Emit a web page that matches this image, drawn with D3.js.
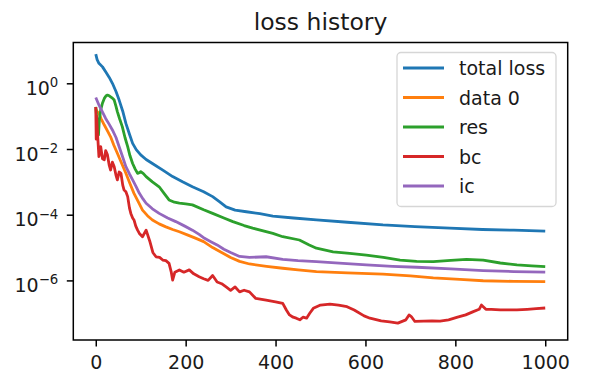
<!DOCTYPE html>
<html>
<head>
<meta charset="utf-8">
<script src="https://cdn.jsdelivr.net/npm/d3@7"></script>
<style>
  body { margin: 0; background: #fff; }
  svg text { font-family: "DejaVu Sans", sans-serif; fill: #1a1a1a; }
</style>
</head>
<body>
<div id="chart"></div>
<script>
// Loss curves: [iteration, log10(loss)]
const totalLoss = [[0,0.89],[3,0.72],[7,0.61],[15,0.5],[22,0.35],[30,0.18],[37,0.0],[45,-0.25],[52,-0.51],[60,-0.85],[67,-1.22],[75,-1.55],[82,-1.83],[90,-2.02],[100,-2.18],[112,-2.32],[126,-2.44],[150,-2.65],[171,-2.84],[193,-3.0],[215,-3.15],[240,-3.3],[260,-3.45],[275,-3.6],[290,-3.76],[310,-3.86],[335,-3.91],[365,-3.97],[394,-4.04],[440,-4.1],[491,-4.16],[560,-4.23],[639,-4.31],[710,-4.36],[788,-4.41],[860,-4.45],[930,-4.47],[1000,-4.5]];

const data0 = [[0,-0.78],[3,-0.86],[7,-0.91],[12,-1.08],[19,-1.27],[26,-1.45],[33,-1.63],[40,-1.88],[48,-2.13],[57,-2.42],[67,-2.74],[76,-3.05],[85,-3.35],[95,-3.62],[104,-3.86],[115,-4.03],[126,-4.16],[141,-4.28],[156,-4.37],[171,-4.45],[186,-4.52],[205,-4.62],[223,-4.72],[240,-4.82],[260,-5.0],[280,-5.15],[300,-5.3],[320,-5.42],[342,-5.5],[380,-5.57],[416,-5.63],[450,-5.68],[491,-5.73],[560,-5.77],[639,-5.81],[700,-5.86],[751,-5.92],[810,-5.97],[862,-6.01],[930,-6.03],[1000,-6.04]];

const res = [[0,-0.72],[3,-1.2],[6,-1.57],[8,-1.1],[11,-0.81],[15,-0.6],[19,-0.46],[23,-0.38],[26,-0.36],[30,-0.38],[33,-0.41],[37,-0.45],[41,-0.51],[45,-0.7],[48,-0.86],[53,-1.08],[59,-1.32],[65,-1.65],[71,-1.93],[76,-2.2],[82,-2.44],[88,-2.62],[93,-2.74],[97,-2.72],[100,-2.69],[106,-2.75],[112,-2.84],[126,-3.0],[141,-3.15],[152,-3.35],[163,-3.55],[175,-3.62],[186,-3.65],[200,-3.67],[215,-3.7],[240,-3.85],[260,-3.96],[285,-4.1],[305,-4.21],[330,-4.33],[349,-4.41],[394,-4.57],[416,-4.67],[453,-4.77],[475,-4.92],[491,-5.02],[528,-5.13],[565,-5.18],[602,-5.23],[640,-5.3],[677,-5.38],[714,-5.42],[751,-5.43],[790,-5.39],[825,-5.36],[862,-5.38],[900,-5.47],[937,-5.53],[970,-5.56],[1000,-5.58]];

const bc = [[0,-0.72],[1,-1.7],[2,-1.0],[4,-1.55],[7,-2.23],[11,-1.93],[15,-2.3],[19,-2.33],[22,-2.05],[26,-2.18],[30,-2.5],[33,-2.64],[37,-2.4],[41,-2.54],[45,-2.8],[48,-2.94],[52,-2.7],[56,-2.74],[60,-3.1],[63,-3.25],[67,-3.3],[71,-3.45],[75,-3.8],[78,-3.96],[82,-4.1],[85,-4.16],[89,-4.35],[93,-4.47],[97,-4.57],[104,-4.67],[112,-4.47],[120,-4.8],[127,-5.15],[134,-5.28],[142,-5.3],[149,-5.38],[156,-5.4],[163,-5.48],[168,-5.75],[171,-5.99],[176,-5.75],[186,-5.68],[196,-5.75],[208,-5.68],[218,-5.8],[230,-5.89],[240,-5.95],[250,-6.0],[260,-5.85],[270,-6.05],[280,-6.1],[290,-6.2],[300,-6.3],[310,-6.2],[320,-6.35],[330,-6.3],[342,-6.35],[356,-6.55],[379,-6.6],[400,-6.65],[416,-6.7],[424,-6.9],[431,-7.05],[439,-7.12],[446,-7.15],[454,-7.2],[461,-7.12],[469,-7.15],[476,-7.0],[484,-6.85],[500,-6.75],[521,-6.72],[540,-6.75],[559,-6.8],[575,-6.9],[597,-7.08],[610,-7.15],[635,-7.23],[654,-7.26],[672,-7.3],[690,-7.2],[697,-7.05],[702,-7.1],[710,-7.25],[730,-7.24],[748,-7.23],[766,-7.24],[785,-7.2],[805,-7.12],[823,-7.05],[840,-6.95],[853,-6.88],[858,-6.75],[862,-6.8],[868,-6.88],[880,-6.88],[900,-6.9],[920,-6.9],[937,-6.9],[960,-6.88],[980,-6.86],[1000,-6.84]];

const ic = [[0,-0.43],[7,-0.66],[15,-0.88],[22,-1.07],[30,-1.25],[37,-1.42],[45,-1.65],[52,-1.93],[60,-2.25],[67,-2.54],[75,-2.76],[82,-2.94],[90,-3.15],[97,-3.35],[105,-3.52],[112,-3.65],[126,-3.82],[141,-3.96],[160,-4.1],[178,-4.21],[197,-4.34],[215,-4.47],[230,-4.6],[242,-4.72],[256,-4.82],[270,-4.92],[285,-5.05],[300,-5.15],[320,-5.27],[342,-5.3],[379,-5.28],[416,-5.36],[450,-5.4],[491,-5.43],[550,-5.48],[602,-5.53],[660,-5.57],[714,-5.6],[790,-5.65],[862,-5.7],[930,-5.73],[1000,-5.75]];

const seriesNames = ["total loss", "data 0", "res", "bc", "ic"];
const seriesColors = ["#1f77b4", "#ff7f0e", "#2ca02c", "#d62728", "#9467bd"];
const xTicks = [0, 200, 400, 600, 800, 1000];
const yTickExps = [0, -2, -4, -6];

const margin = { top: 42.5, right: 24.3, bottom: 48, left: 73.3 },
    width = 592 - margin.left - margin.right,
    height = 388 - margin.top - margin.bottom;

const svg = d3.select("#chart")
    .append("svg")
    .attr("width", 592)
    .attr("height", 388);

const g = svg.append("g")
    .attr("transform", "translate(" + margin.left + "," + margin.top + ")");

// x has matplotlib's 5% margins, y is log
const x = d3.scaleLinear().domain([-50, 1050]).range([0, width]);
const y = d3.scaleLog().domain([Math.pow(10, -7.814), Math.pow(10, 1.242)]).range([height, 0]);

g.append("clipPath").attr("id", "clip")
    .append("rect").attr("width", width).attr("height", height);

const line = d3.line()
    .x(d => x(d[0]))
    .y(d => y(Math.pow(10, d[1])));

const allSeries = [totalLoss, data0, res, bc, ic];
g.append("g").attr("clip-path", "url(#clip)")
    .selectAll("path")
    .data(allSeries)
    .enter()
    .append("path")
    .attr("d", line)
    .attr("fill", "none")
    .attr("stroke", (d, i) => seriesColors[i])
    .attr("stroke-width", 2.8)
    .attr("stroke-linejoin", "round");

// X axis
const xAxis = g.append("g")
    .attr("transform", "translate(0," + height + ")")
    .call(d3.axisBottom(x).tickValues(xTicks).tickFormat(d3.format("d")).tickSize(6.5).tickSizeOuter(0));
xAxis.selectAll("text")
    .attr("y", 29).attr("dy", null)
    .style("font-size", "19px");

// Y axis with 10^n labels
const yAxis = g.append("g")
    .call(d3.axisLeft(y).tickValues(yTickExps.map(e => Math.pow(10, e))).tickSize(6.5).tickSizeOuter(0).tickFormat(""));
yAxis.selectAll(".tick text").remove();
yAxis.selectAll(".tick").each(function(d) {
    const e = Math.round(Math.log10(d));
    const t = d3.select(this).append("text")
        .attr("x", -15)
        .attr("y", 11)
        .attr("text-anchor", "end")
        .style("font-size", "19px");
    t.append("tspan").text("10");
    t.append("tspan").attr("dy", -7.5).style("font-size", "13.3px")
        .text(e < 0 ? "\u2212" + (-e) : String(e));
});

[xAxis, yAxis].forEach(a => {
    a.selectAll("line").attr("stroke", "#000").attr("stroke-width", 1.5);
    a.select(".domain").remove();
});

// Frame
g.append("rect")
    .attr("width", width).attr("height", height)
    .attr("fill", "none").attr("stroke", "#000").attr("stroke-width", 1.5);

// Title
svg.append("text")
    .attr("x", margin.left + width / 2)
    .attr("y", 29.5)
    .attr("text-anchor", "middle")
    .style("font-size", "23.5px")
    .text("loss history");

// Legend
const legend = svg.append("g").attr("transform", "translate(397,52.5)");
legend.append("rect")
    .attr("width", 159).attr("height", 154).attr("rx", 4)
    .attr("fill", "#fff").attr("fill-opacity", 0.8)
    .attr("stroke", "#d6d6d6").attr("stroke-width", 1.3);
const items = legend.selectAll(".item")
    .data(seriesNames)
    .enter().append("g")
    .attr("transform", (d, i) => "translate(0," + (15.5 + i * 29.5) + ")");
items.append("line")
    .attr("x1", 6).attr("x2", 47)
    .attr("stroke", (d, i) => seriesColors[i])
    .attr("stroke-width", 2.8);
items.append("text")
    .attr("x", 62).attr("y", 7)
    .style("font-size", "19px")
    .text(d => d);
</script>
</body>
</html>
